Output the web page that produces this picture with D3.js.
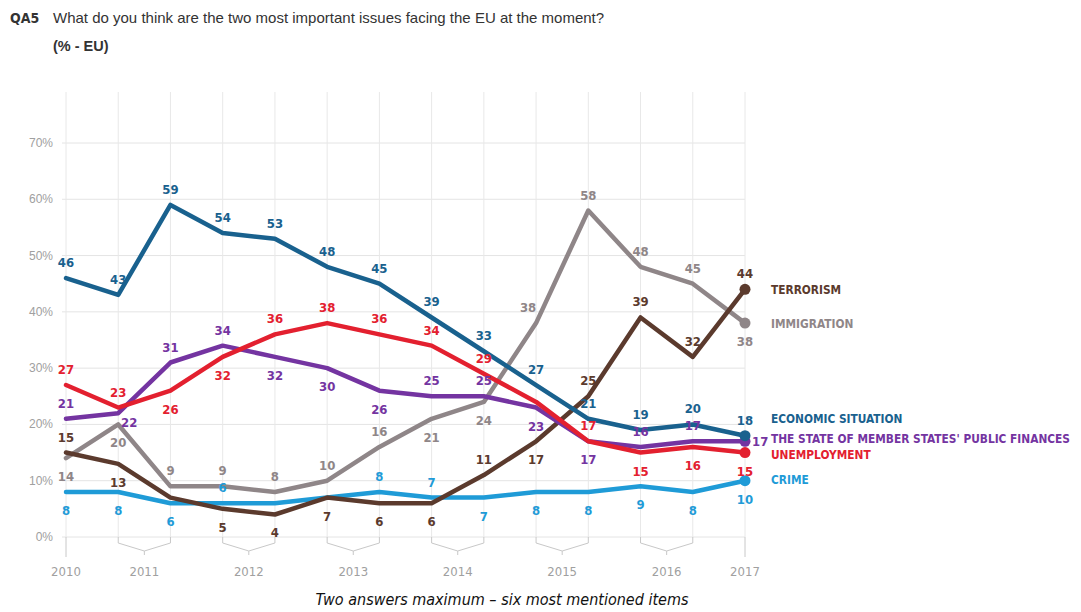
<!DOCTYPE html>
<html><head><meta charset="utf-8">
<script src="https://cdn.jsdelivr.net/npm/d3@7"></script>
<style>
body{margin:0;background:#fff;}
svg{display:block;}
</style></head>
<body>
<script>
// ---- DATA ----
const years = ["2010","2011","2012","2013","2014","2015","2016","2017"];
const yTicks = [0,10,20,30,40,50,60,70];
const nPoints = 14;
const economic      = [46,43,59,54,53,48,45,39,33,27,21,19,20,18];
const unemployment  = [27,23,26,32,36,38,36,34,29,24,17,15,16,15];
const publicFinance = [21,22,31,34,32,30,26,25,25,23,17,16,17,17];
const immigration   = [14,20,9,9,8,10,16,21,24,38,58,48,45,38];
const terrorism     = [15,13,7,5,4,7,6,6,11,17,25,39,32,44];
const crime         = [8,8,6,6,6,7,8,7,7,8,8,9,8,10];
const seriesNames = ["TERRORISM","IMMIGRATION","ECONOMIC SITUATION","THE STATE OF MEMBER STATES' PUBLIC FINANCES","UNEMPLOYMENT","CRIME"];

// ---- STYLE / PLACEMENT ----
const series = [
  {name:seriesNames[5], values:crime, color:"#1f9bd7",
   place:["b","b","b","t","n","n","t","t","b","b","b","b","b","b"], ly:479},
  {name:seriesNames[1], values:immigration, color:"#8f8688",
   place:["b","b","t","t","t","t","t","b","b","tl","t","t","t","b"], ly:323},
  {name:seriesNames[0], values:terrorism, color:"#5b3a2d",
   place:["t","b","n","b","b","b","b","b","t","b","t","t","t","t"], ly:289},
  {name:seriesNames[3], values:publicFinance, color:"#7434a1",
   place:["t","br","t","t","b","b","b","t","t","b","b","t","t","r"], ly:438},
  {name:seriesNames[4], values:unemployment, color:"#e3202f",
   place:["t","t","b","b","t","t","t","t","t","n","t","b","b","b"], ly:454},
  {name:seriesNames[2], values:economic, color:"#19618e",
   place:["t","t","t","t","t","t","t","t","t","t","t","t","t","t"], ly:418}
];

const W = 1081, H = 612;
const svg = d3.select("body").append("svg").attr("width",W).attr("height",H);
const condensed = "'DejaVu Sans Condensed','Liberation Sans Narrow',sans-serif";
const sans = "'Liberation Sans',Arial,sans-serif";

const x = d3.scaleLinear().domain([0,nPoints-1]).range([66,745]);
const y = d3.scaleLinear().domain([0,70]).range([537,143]);

// Title
const t = svg.append("text").attr("x",10).attr("y",23).attr("font-family",sans).attr("font-size",15).attr("fill","#333");
t.append("tspan").attr("font-weight","bold").attr("font-family",condensed).attr("font-size",14).text("QA5");
t.append("tspan").attr("x",53).text("What do you think are the two most important issues facing the EU at the moment?");
svg.append("text").attr("x",53).attr("y",51).attr("font-family",sans)
  .attr("font-size",14.5).attr("font-weight","bold").attr("fill","#333").text("(% - EU)");

// grid
const grid = svg.append("g");
grid.selectAll("line.h").data(yTicks).join("line").attr("class","h")
  .attr("x1",62).attr("x2",745).attr("y1",d=>y(d)).attr("y2",d=>y(d))
  .attr("stroke","#e4e4e4").attr("stroke-width",1);
grid.selectAll("line.v").data(d3.range(nPoints)).join("line").attr("class","v")
  .attr("x1",d=>x(d)).attr("x2",d=>x(d)).attr("y1",92).attr("y2",537)
  .attr("stroke","#e8e8e8").attr("stroke-width",1);

// y axis labels
svg.selectAll("text.yt").data(yTicks).join("text").attr("class","yt")
  .attr("x",53).attr("y",d=>y(d)+4).attr("text-anchor","end")
  .attr("font-family",sans).attr("font-size",12).attr("fill","#a0a0a0")
  .text(d=>d+"%");

// x brackets: pairs of survey points per year
const brk = svg.append("g").attr("fill","none").attr("stroke","#c8c8c8").attr("stroke-width",1);
[0,nPoints-1].forEach(i=>{
  brk.append("line").attr("x1",x(i)).attr("x2",x(i)).attr("y1",537).attr("y2",557);
});
const yearPos = [x(0)];
for(let k=0;k<6;k++){
  const a=1+2*k, b=2+2*k;
  const xm=(x(a)+x(b))/2;
  yearPos.push(xm);
  brk.append("path").attr("d",`M${x(a)},537 V543 L${xm},551 L${x(b)},543 V537 M${xm},551 V555`);
}
yearPos.push(x(nPoints-1));
svg.selectAll("text.xt").data(years).join("text").attr("class","xt")
  .attr("x",(d,i)=>yearPos[i]).attr("y",576).attr("text-anchor","middle")
  .attr("font-family",condensed).attr("font-size",13).attr("fill","#a0a0a0").text(d=>d);

// lines
const line = d3.line().x((d,i)=>x(i)).y(d=>y(d));
const gl = svg.append("g");
series.forEach(s=>{
  gl.append("path").datum(s.values).attr("d",line).attr("fill","none")
    .attr("stroke",s.color).attr("stroke-width",4.5).attr("stroke-linejoin","round").attr("stroke-linecap","round");
});
series.forEach(s=>{
  gl.append("circle").attr("cx",x(nPoints-1)).attr("cy",y(s.values[nPoints-1])).attr("r",5.5).attr("fill",s.color);
});

// value labels
series.forEach(s=>{
  s.values.forEach((v,i)=>{
    const p = s.place[i];
    if(p==="n") return;
    let dx=0, dy=-11, anchor="middle";
    if(p[0]==="b") dy=23;
    if(p==="r"){dx=7; dy=5; anchor="start";}
    if(p==="br"){dx=11; dy=14;}
    if(p==="tl") dx=-8;
    svg.append("text").attr("x",x(i)+dx).attr("y",y(v)+dy).attr("text-anchor",anchor)
      .attr("font-family",condensed).attr("font-size",13).attr("font-weight","bold")
      .attr("fill",s.color).text(v);
  });
});

// series names
series.forEach(s=>{
  svg.append("text").attr("x",771).attr("y",s.ly+5).attr("font-family",condensed)
    .attr("font-size",11.8).attr("font-weight","bold").attr("fill",s.color).text(s.name);
});

// footer
svg.append("text").attr("x",502).attr("y",605).attr("text-anchor","middle")
  .attr("font-family",condensed).attr("font-size",16).attr("font-style","italic").attr("fill","#111")
  .text("Two answers maximum – six most mentioned items");
</script>
</body></html>
